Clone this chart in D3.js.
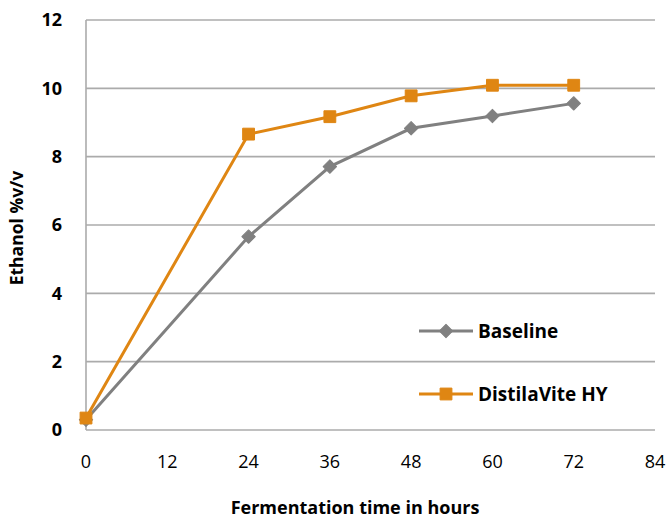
<!DOCTYPE html>
<html>
<head>
<meta charset="utf-8">
<script src="https://cdn.jsdelivr.net/npm/d3@7"></script>
<style>
  body { margin: 0; background: #fff; }
  svg text { font-family: "Open Sans", "Noto Sans", sans-serif; fill: #000; }
</style>
</head>
<body>
<svg id="chart" width="668" height="519"></svg>
<script>
// ── Data ────────────────────────────────────────────────────────────────────
const hours = [0, 24, 36, 48, 60, 72];
const baseline = [0.3, 5.66, 7.71, 8.83, 9.19, 9.56];
const distilaVite = [0.35, 8.66, 9.17, 9.78, 10.09, 10.09];
const xTicks = [0, 12, 24, 36, 48, 60, 72, 84];
const yTicks = [0, 2, 4, 6, 8, 10, 12];

const series = [
  { name: "Baseline", values: baseline, color: "#808080", marker: "diamond" },
  { name: "DistilaVite HY", values: distilaVite, color: "#DF8613", marker: "square" },
];

// ── Layout ──────────────────────────────────────────────────────────────────
const svg = d3.select("#chart");
const x = d3.scaleLinear().domain([0, 84]).range([86, 655]);
const y = d3.scaleLinear().domain([0, 12]).range([430, 20]);
const grid = "#ABABAB";

// gridlines
svg.append("g")
  .selectAll("line")
  .data(yTicks)
  .join("line")
  .attr("x1", x(0)).attr("x2", x(84))
  .attr("y1", d => y(d)).attr("y2", d => y(d))
  .attr("stroke", grid).attr("stroke-width", 1.6);

// left axis line
svg.append("line")
  .attr("x1", x(0)).attr("x2", x(0))
  .attr("y1", y(0)).attr("y2", y(12))
  .attr("stroke", grid).attr("stroke-width", 1.6);

// y tick labels
svg.append("g")
  .selectAll("text")
  .data(yTicks)
  .join("text")
  .attr("x", 62).attr("y", d => y(d))
  .attr("dy", "0.35em")
  .attr("text-anchor", "end")
  .style("font-size", "18px").style("font-weight", "bold")
  .text(d => d);

// x tick labels
svg.append("g")
  .selectAll("text")
  .data(xTicks)
  .join("text")
  .attr("x", d => x(d)).attr("y", 462)
  .attr("dy", "0.35em")
  .attr("text-anchor", "middle")
  .style("font-size", "18px")
  .text(d => d);

// axis titles
svg.append("text")
  .attr("x", 355).attr("y", 508)
  .attr("dy", "0.35em")
  .attr("text-anchor", "middle")
  .style("font-size", "18px").style("font-weight", "bold")
  .text("Fermentation time in hours");

svg.append("text")
  .attr("transform", "translate(17,228) rotate(-90)")
  .attr("dy", "0.35em")
  .attr("text-anchor", "middle")
  .style("font-size", "17.5px").style("font-weight", "bold")
  .text("Ethanol %v/v");

// ── Series ──────────────────────────────────────────────────────────────────
const line = d3.line().x((d, i) => x(hours[i])).y(d => y(d));
const symbolFor = m => m === "diamond"
  ? d3.symbol(d3.symbolSquare, 90)
  : d3.symbol(d3.symbolSquare, 140);

series.forEach(s => {
  svg.append("path")
    .attr("d", line(s.values))
    .attr("fill", "none")
    .attr("stroke", s.color)
    .attr("stroke-width", 3);

  svg.append("g")
    .selectAll("path")
    .data(s.values)
    .join("path")
    .attr("d", symbolFor(s.marker))
    .attr("transform", (d, i) => `translate(${x(hours[i])},${y(d)})` + (s.marker === "diamond" ? " rotate(45)" : ""))
    .attr("fill", s.color)
    .attr("stroke", s.color)
    .attr("stroke-width", 1)
    .attr("stroke-linejoin", "round");
});

// ── Legend ──────────────────────────────────────────────────────────────────
const legend = svg.append("g")
  .selectAll("g")
  .data(series)
  .join("g")
  .attr("transform", (d, i) => `translate(419,${331 + i * 63})`);

legend.append("line")
  .attr("x1", 0).attr("x2", 54)
  .attr("stroke", d => d.color).attr("stroke-width", 3);

legend.append("path")
  .attr("d", d => symbolFor(d.marker)())
  .attr("transform", d => "translate(27,0)" + (d.marker === "diamond" ? " rotate(45)" : ""))
  .attr("fill", d => d.color)
  .attr("stroke", d => d.color)
  .attr("stroke-linejoin", "round");

legend.append("text")
  .attr("x", 59).attr("dy", "0.35em")
  .style("font-size", "19px").style("font-weight", "bold")
  .text(d => d.name);
</script>
</body>
</html>
